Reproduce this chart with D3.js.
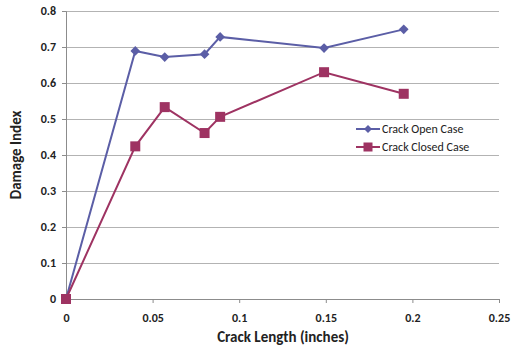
<!DOCTYPE html>
<html><head><meta charset="utf-8">
<script src="https://cdn.jsdelivr.net/npm/d3@7"></script>
<style>body{margin:0;background:#fff}svg{display:block}</style>
</head><body>
<svg id="c" width="512" height="350"></svg>
<script>
const crackLength = [0, 0.04, 0.057, 0.08, 0.089, 0.149, 0.195];
const openCase = [0, 0.689, 0.672, 0.680, 0.728, 0.697, 0.749];
const closedCase = [0, 0.424, 0.533, 0.461, 0.506, 0.630, 0.570];
const xTicks = [0, 0.05, 0.1, 0.15, 0.2, 0.25];
const yTicks = [0, 0.1, 0.2, 0.3, 0.4, 0.5, 0.6, 0.7, 0.8];
const seriesNames = ["Crack Open Case", "Crack Closed Case"];

const svg = d3.select("#c");
const font = "Carlito, 'Open Sans', 'Noto Sans', sans-serif";
const x = d3.scaleLinear().domain([0, 0.25]).range([66, 499]);
const y = d3.scaleLinear().domain([0, 0.8]).range([299, 11]);

// gridlines
svg.append("g").selectAll("line").data(yTicks.filter(d => d > 0)).join("line")
  .attr("x1", 62).attr("x2", 499).attr("y1", d => y(d)).attr("y2", d => y(d))
  .attr("stroke", "#b3b3b3").attr("stroke-width", 1).attr("shape-rendering", "crispEdges");

// axes
const yAxis = d3.axisLeft(y).tickValues(yTicks).tickSize(4).tickFormat(d => d === 0 ? "0" : d3.format(".1f")(d));
const gy = svg.append("g").attr("transform", `translate(${x(0)},0)`).call(yAxis);
gy.select(".domain").attr("stroke", "#8c8c8c");
gy.selectAll(".tick line").attr("stroke", "#8c8c8c");
gy.selectAll("text").attr("font-family", font).attr("font-weight", "bold").attr("font-size", 12).attr("fill", "#222").attr("dx", -3);

const xAxis = d3.axisBottom(x).tickValues(xTicks).tickSize(4).tickFormat(d => d === 0 ? "0" : d3.format("~g")(d));
const gx = svg.append("g").attr("transform", `translate(0,${y(0)})`).call(xAxis);
gx.select(".domain").attr("stroke", "#8c8c8c");
gx.selectAll(".tick line").attr("stroke", "#8c8c8c");
gx.selectAll("text").attr("font-family", font).attr("font-weight", "bold").attr("font-size", 12).attr("fill", "#222").attr("dy", "1.3em");

// titles
svg.append("text").attr("x", 283).attr("y", 342).attr("text-anchor", "middle")
  .attr("font-family", font).attr("font-weight", "bold").attr("font-size", 15).attr("fill", "#222")
  .text("Crack Length (inches)");
svg.append("text").attr("transform", "translate(21,155) rotate(-90)").attr("text-anchor", "middle")
  .attr("font-family", font).attr("font-weight", "bold").attr("font-size", 15).attr("fill", "#222")
  .text("Damage Index");

const colors = ["#5b5ea6", "#9e3362"];
const line = d3.line().x(d => x(d[0])).y(d => y(d[1]));
const openData = crackLength.map((c, i) => [c, openCase[i]]);
const closedData = crackLength.map((c, i) => [c, closedCase[i]]);

svg.append("path").datum(openData).attr("d", line).attr("fill", "none").attr("stroke", colors[0]).attr("stroke-width", 2);
svg.append("path").datum(closedData).attr("d", line).attr("fill", "none").attr("stroke", colors[1]).attr("stroke-width", 2);

const diamond = d3.symbol().type(d3.symbolDiamond2).size(60);
svg.append("g").selectAll("path").data(openData).join("path")
  .attr("transform", d => `translate(${x(d[0])},${y(d[1])})`).attr("d", diamond).attr("fill", colors[0]);
svg.append("g").selectAll("rect").data(closedData).join("rect")
  .attr("x", d => x(d[0]) - 5).attr("y", d => y(d[1]) - 5).attr("width", 10).attr("height", 10).attr("fill", colors[1]);

// legend
const lg = svg.append("g");
const rows = [129, 147];
seriesNames.forEach((n, i) => {
  lg.append("line").attr("x1", 356).attr("x2", 380).attr("y1", rows[i]).attr("y2", rows[i]).attr("stroke", colors[i]).attr("stroke-width", 2);
  if (i === 0) lg.append("path").attr("transform", `translate(368,${rows[i]})`).attr("d", d3.symbol().type(d3.symbolDiamond2).size(40)).attr("fill", colors[i]);
  else lg.append("rect").attr("x", 363.5).attr("y", rows[i] - 4.5).attr("width", 9).attr("height", 9).attr("fill", colors[i]);
  lg.append("text").attr("x", 382).attr("y", rows[i] + 4).attr("font-family", font).attr("font-size", 12).attr("fill", "#222").text(n);
});
</script>
</body></html>
